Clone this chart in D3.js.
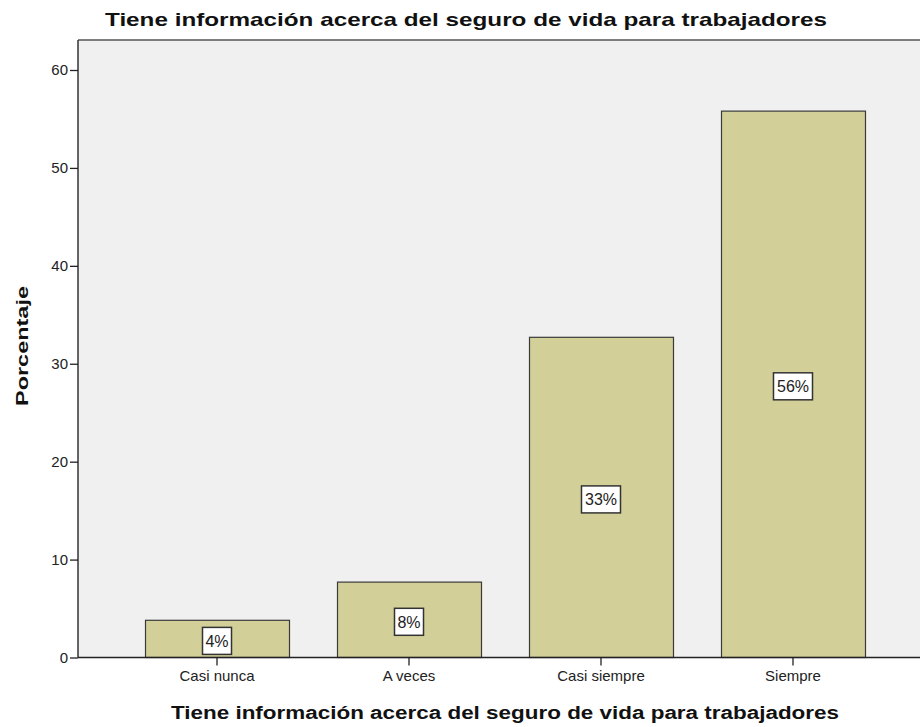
<!DOCTYPE html>
<html>
<head>
<meta charset="utf-8">
<script src="https://cdn.jsdelivr.net/npm/d3@7"></script>
<style>
  body { margin: 0; background: #fff; }
  svg text { font-family: "Liberation Sans", Arial, sans-serif; }
</style>
</head>
<body>
<div id="main"></div>
<script>
// datos
var categorias = ["Casi nunca", "A veces", "Casi siempre", "Siempre"];
var porcentajes = [3.8, 7.7, 32.7, 55.8];
var etiquetas = ["4%", "8%", "33%", "56%"];
var ticksY = [0, 10, 20, 30, 40, 50, 60];
var titulo = "Tiene información acerca del seguro de vida para trabajadores";

var width = 920, height = 727;
var mIzq = 78, mSup = 40, mInf = 657.5, mDer = 932;

var svg = d3.select("#main").append("svg")
    .attr("width", width).attr("height", height);

var x = d3.scaleBand().domain(categorias)
    .range([mIzq, mDer]).paddingInner(0.25).paddingOuter(0.349);
var y = d3.scaleLinear().domain([0, 60]).range([mInf, 70]);

// fondo del area
svg.append("rect").attr("x", mIzq).attr("y", mSup)
    .attr("width", mDer - mIzq).attr("height", mInf - mSup)
    .attr("fill", "#f0f0f0");

// barras
svg.selectAll(".bar").data(porcentajes).enter().append("rect")
    .attr("class", "bar")
    .attr("x", function(d, i) { return x(categorias[i]) + 0.5; })
    .attr("y", function(d) { return y(d); })
    .attr("width", x.bandwidth())
    .attr("height", function(d) { return mInf - y(d); })
    .attr("fill", "#d3cf98")
    .attr("stroke", "#3a3a3a")
    .attr("stroke-width", 1.2);

// marco superior
svg.append("line").attr("x1", mIzq).attr("x2", width).attr("y1", mSup).attr("y2", mSup)
    .attr("stroke", "#555").attr("stroke-width", 1.5);

// eje Y
var ejeY = svg.append("g").attr("transform", "translate(" + mIzq + ",0)")
    .call(d3.axisLeft(y).tickValues(ticksY).tickSize(8).tickPadding(2).tickSizeOuter(0));
ejeY.attr("font-size", null).attr("font-family", null);
ejeY.select(".domain").attr("stroke", "#333").attr("stroke-width", 1.5)
    .attr("d", "M0," + mSup + "V" + mInf);
ejeY.selectAll(".tick line").attr("stroke", "#222").attr("stroke-width", 1.3);
ejeY.selectAll("text").style("font-size", "15px").attr("fill", "#222");

// eje X
var ejeX = svg.append("g").attr("transform", "translate(0," + mInf + ")")
    .call(d3.axisBottom(x).tickSize(8).tickPadding(5).tickSizeOuter(0));
ejeX.attr("font-size", null).attr("font-family", null);
ejeX.select(".domain").attr("stroke", "#222").attr("stroke-width", 1.3)
    .attr("d", "M" + mIzq + ",0H" + width);
ejeX.selectAll(".tick line").attr("stroke", "#222").attr("stroke-width", 1.3);
ejeX.selectAll("text").style("font-size", "15px").attr("fill", "#222");

// etiquetas de porcentaje
var lab = svg.selectAll(".lab").data(porcentajes).enter().append("g")
    .attr("class", "lab")
    .attr("transform", function(d, i) {
      return "translate(" + (x(categorias[i]) + x.bandwidth() / 2) + "," + ((y(d) + mInf) / 2 + 2) + ")";
    });
lab.append("rect")
    .attr("x", function(d, i) { return etiquetas[i].length > 2 ? -19.5 : -14.5; })
    .attr("y", -13.5)
    .attr("width", function(d, i) { return etiquetas[i].length > 2 ? 39 : 29; })
    .attr("height", 27)
    .attr("fill", "#fff").attr("stroke", "#333").attr("stroke-width", 1.5);
lab.append("text").attr("text-anchor", "middle").attr("dy", "0.36em")
    .style("font-size", "16px").attr("fill", "#222")
    .text(function(d, i) { return etiquetas[i]; });

// titulos
svg.append("text").attr("x", 466).attr("y", 26).attr("text-anchor", "middle")
    .attr("font-size", 19).attr("font-weight", "bold").attr("fill", "#111")
    .attr("textLength", 722).attr("lengthAdjust", "spacingAndGlyphs")
    .text(titulo);

svg.append("text").attr("x", 505).attr("y", 719).attr("text-anchor", "middle")
    .attr("font-size", 18).attr("font-weight", "bold").attr("fill", "#111")
    .attr("textLength", 668).attr("lengthAdjust", "spacingAndGlyphs")
    .text(titulo);

svg.append("text").attr("transform", "translate(28,346) rotate(-90)")
    .attr("text-anchor", "middle")
    .attr("font-size", 17).attr("font-weight", "bold").attr("fill", "#111")
    .attr("textLength", 120).attr("lengthAdjust", "spacingAndGlyphs")
    .text("Porcentaje");
</script>
</body>
</html>
